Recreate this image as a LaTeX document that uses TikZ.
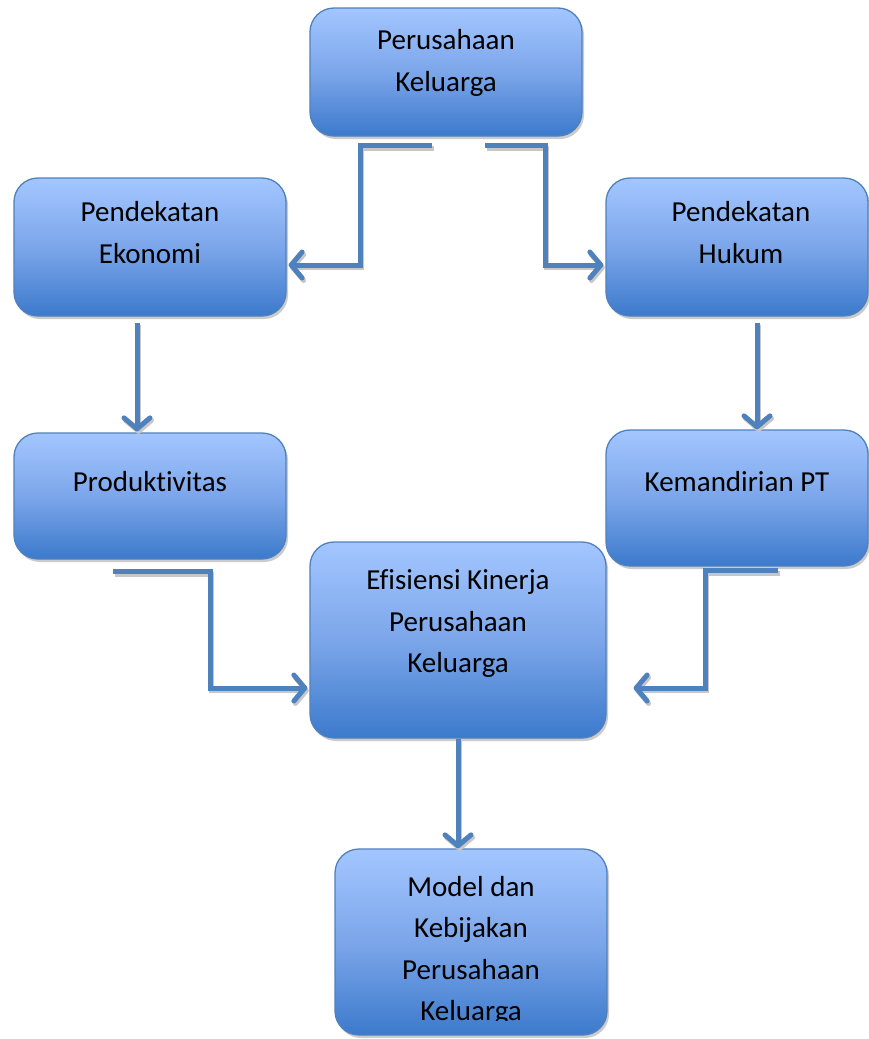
\documentclass[tikz,border=0pt]{standalone}
\usepackage{fontspec}
\setmainfont{Carlito}[Ligatures={NoCommon}]
\usetikzlibrary{arrows.meta,shadows,calc}
\definecolor{lnblue}{RGB}{79,129,189}
\definecolor{gtop}{RGB}{163,198,255}
\definecolor{gmid}{RGB}{124,166,234}
\definecolor{gbot}{RGB}{60,122,204}
\tikzset{
  box/.style={draw=lnblue, line width=1.3pt, rounded corners=24pt,
    top color=gtop, bottom color=gbot, middle color=gmid,
    drop shadow={shadow xshift=2pt, shadow yshift=-3pt, fill=black!45, opacity=0.45},
    inner sep=0pt},
  lbl/.style={font=\fontsize{29}{41.5}\selectfont, align=center, text=black, inner sep=0pt},
  conn/.style={draw=lnblue, line width=5pt, -{Straight Barb[length=11pt,width=26pt,round]},
    preaction={draw=black!22, line width=5pt, -{Straight Barb[length=11pt,width=26pt,round]},
      transform canvas={shift={(1.5pt,-2.5pt)}}}}
}
\begin{document}
\begin{tikzpicture}[x=1pt,y=-1pt]
\clip (0,0) rectangle (869,1039);
\fill[white] (0,0) rectangle (869,1039);
% boxes
\node[box, minimum width=272pt, minimum height=128pt] (top) at (446,72) {};
\node[box, minimum width=272pt, minimum height=138pt] (eko) at (150,247) {};
\node[box, minimum width=262pt, minimum height=138pt] (huk) at (737,247) {};
\node[box, minimum width=272pt, minimum height=126pt] (prod) at (150,496) {};
\node[box, minimum width=262pt, minimum height=136pt] (kem) at (737,498) {};
\node[box, minimum width=296pt, minimum height=196pt] (efi) at (458,640) {};
\node[box, minimum width=272pt, minimum height=186pt] (mod) at (471,942) {};
% labels
\node[lbl] (ttop) at ([yshift=9pt]top.center) {Perusahaan\\Keluarga};
\node[lbl] (teko) at ([yshift=14.5pt]eko.center) {Pendekatan\\Ekonomi};
\node[lbl] (thuk) at ([shift={(4pt,14.5pt)}]huk.center) {Pendekatan\\Hukum};
\node[lbl] (tprod) at ([yshift=14pt]prod.center) {Produktivitas};
\node[lbl] (tkem) at ([yshift=16pt]kem.center) {Kemandirian PT};
\node[lbl] (tefi) at ([yshift=16pt]efi.center) {Efisiensi Kinerja\\Perusahaan\\Keluarga};
\begin{scope}
  \clip (335,849) rectangle (607,1020);
  \node[lbl] (tmod) at ([yshift=-9pt]mod.center) {Model dan\\Kebijakan\\Perusahaan\\Keluarga};
\end{scope}
% connectors
\draw[conn] ([shift={(-14,9)}]top.south) -- ++(-72,0) |- ([shift={(2,18)}]eko.east);
\draw[conn] ([shift={(39,9)}]top.south) -- ++(60,0) |- ([shift={(-2,18)}]huk.west);
\draw[conn] ([shift={(-13,6)}]eko.south) -- ([shift={(-13,-1)}]prod.north);
\draw[conn] ([shift={(20,6)}]huk.south) -- ([shift={(20,0)}]kem.north);
\draw[conn] ([shift={(-37,12)}]prod.south) -- ++(97,0) |- ([shift={(-2,48)}]efi.west);
\draw[conn] ([shift={(41,4)}]kem.south) -- ++(-73,0) |- ([shift={(27,48)}]efi.east);
\draw[conn] (efi.south) -- (efi.south |- mod.north);
\end{tikzpicture}
\end{document}
